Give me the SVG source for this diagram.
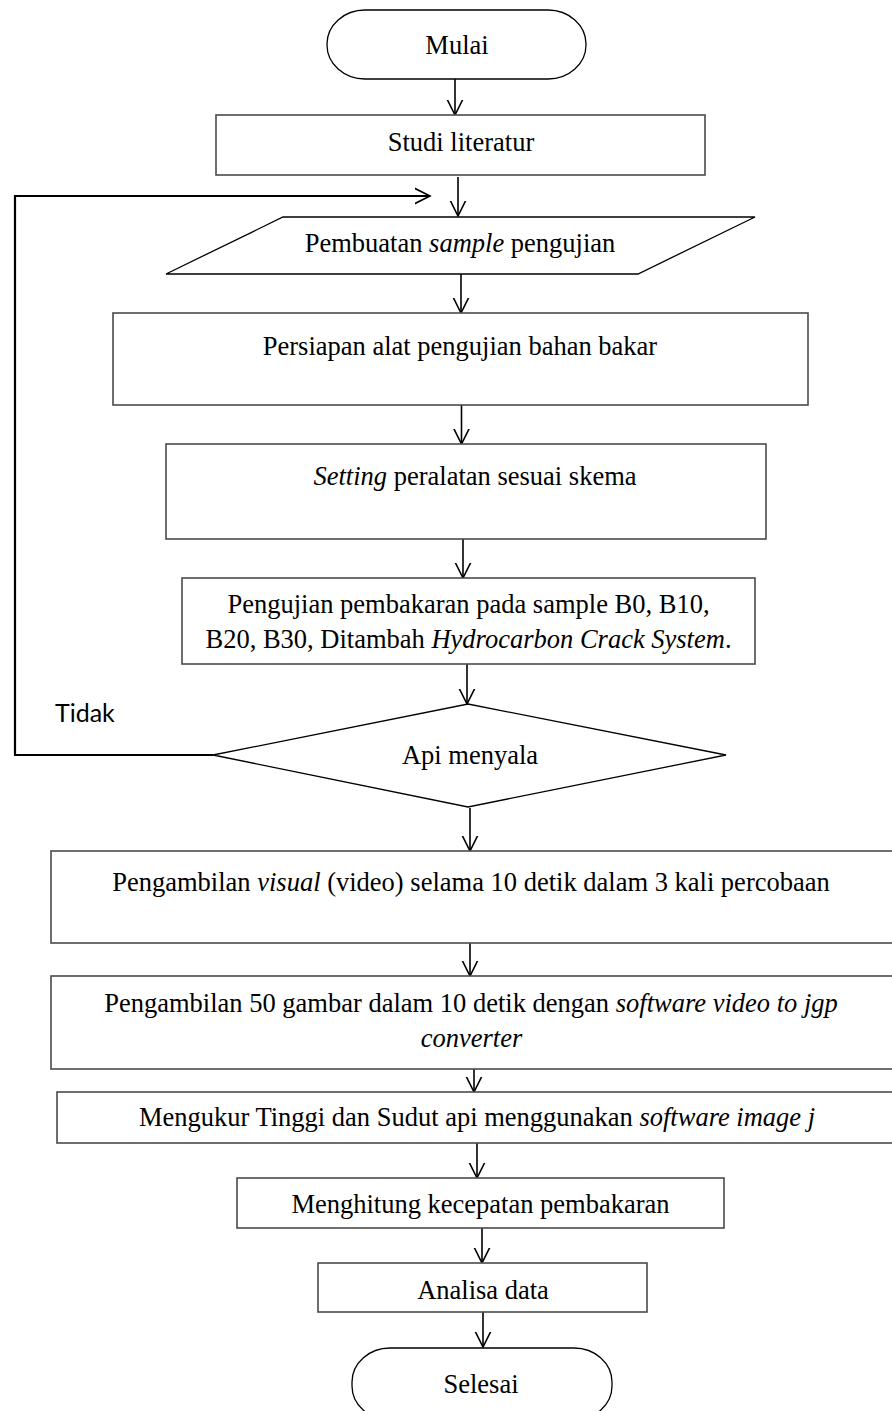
<svg xmlns="http://www.w3.org/2000/svg" width="892" height="1411" viewBox="0 0 892 1411">
<defs>
<marker id="arr" markerUnits="userSpaceOnUse" markerWidth="30" markerHeight="30" viewBox="-15 -15 30 30" refX="0" refY="0" orient="auto">
<path d="M -18 -9 L 0 0 L -18 9" fill="none" stroke="#000" stroke-width="1.6"/>
</marker>
<style>
.box{fill:#fff;stroke:#4a4a4a;stroke-width:1.6}
.shape{fill:#fff;stroke:#000;stroke-width:1.3}
.t{font-family:"Liberation Serif","Times New Roman",serif;font-size:26.5px;fill:#000;text-anchor:middle}
.i{font-style:italic}
.lbl{font-family:Lato,"Open Sans",sans-serif;font-size:25px;fill:#000}
.c{fill:none;stroke:#000;stroke-width:1.6;marker-end:url(#arr)}
.loop{fill:none;stroke:#000;stroke-width:2.2}
</style>
</defs>
<rect width="892" height="1411" fill="#fff"/>
<g id="connectors">
<line class="c" x1="455" y1="79" x2="455" y2="115"/>
<line class="c" x1="458" y1="177" x2="458" y2="216"/>
<polyline class="loop" points="213,755 15,755 15,196 430,196" marker-end="url(#arr)"/>
<line class="c" x1="461" y1="274" x2="461" y2="313"/>
<line class="c" x1="461.5" y1="405" x2="461.5" y2="444"/>
<line class="c" x1="463" y1="539" x2="463" y2="578"/>
<line class="c" x1="467" y1="664" x2="467" y2="704"/>
<line class="c" x1="470" y1="808" x2="470" y2="851"/>
<line class="c" x1="470" y1="943" x2="470" y2="976"/>
<line class="c" x1="474" y1="1069" x2="474" y2="1092"/>
<line class="c" x1="477" y1="1143" x2="477" y2="1178"/>
<line class="c" x1="482" y1="1228" x2="482" y2="1263"/>
<line class="c" x1="483" y1="1307" x2="483" y2="1347"/>
</g>
<g id="mulai">
<rect class="shape" x="327" y="10" width="259" height="69" rx="38" ry="34"/>
<text class="t" x="457" y="54">Mulai</text>
</g>
<g id="studi">
<rect class="box" x="216" y="115" width="489" height="60"/>
<text class="t" x="461" y="151">Studi literatur</text>
</g>
<g id="pembuatan">
<polygon class="shape" points="283,217 755,217 638,274 166,274"/>
<text class="t" x="460" y="252">Pembuatan <tspan class="i">sample</tspan> pengujian</text>
</g>
<g id="persiapan">
<rect class="box" x="113" y="313" width="695" height="92"/>
<text class="t" x="460" y="355">Persiapan alat pengujian bahan bakar</text>
</g>
<g id="setting">
<rect class="box" x="166" y="444" width="600" height="95"/>
<text class="t" x="475" y="485"><tspan class="i">Setting</tspan> peralatan sesuai skema</text>
</g>
<g id="pengujian">
<rect class="box" x="182" y="578" width="573" height="86"/>
<text class="t" x="468.5" y="613">Pengujian pembakaran pada sample B0, B10,</text>
<text class="t" x="468.5" y="648">B20, B30, Ditambah <tspan class="i">Hydrocarbon Crack System</tspan>.</text>
</g>
<g id="api">
<polygon class="shape" points="468,704 726,755 468,807 213,755"/>
<text class="t" x="470" y="764">Api menyala</text>
</g>
<g id="tidak">
<text class="lbl" x="55" y="722">Tidak</text>
</g>
<g id="visual">
<rect class="box" x="51" y="851" width="860" height="92"/>
<text class="t" x="471" y="891">Pengambilan <tspan class="i">visual</tspan> (video) selama 10 detik dalam 3 kali percobaan</text>
</g>
<g id="gambar">
<rect class="box" x="51" y="976" width="860" height="93"/>
<text class="t" x="471" y="1012">Pengambilan 50 gambar dalam 10 detik dengan <tspan class="i">software video to jgp</tspan></text>
<text class="t i" x="471.5" y="1047">converter</text>
</g>
<g id="mengukur">
<rect class="box" x="57" y="1092" width="860" height="51"/>
<text class="t" x="477" y="1126">Mengukur Tinggi dan Sudut api menggunakan <tspan class="i">software image j</tspan></text>
</g>
<g id="menghitung">
<rect class="box" x="237" y="1178" width="487" height="50"/>
<text class="t" x="480.5" y="1213">Menghitung kecepatan pembakaran</text>
</g>
<g id="analisa">
<rect class="box" x="318" y="1263" width="329" height="49"/>
<text class="t" x="483" y="1299">Analisa data</text>
</g>
<g id="selesai">
<rect class="shape" x="352" y="1348" width="260" height="72" rx="38" ry="34"/>
<text class="t" x="481" y="1393">Selesai</text>
</g>
</svg>
